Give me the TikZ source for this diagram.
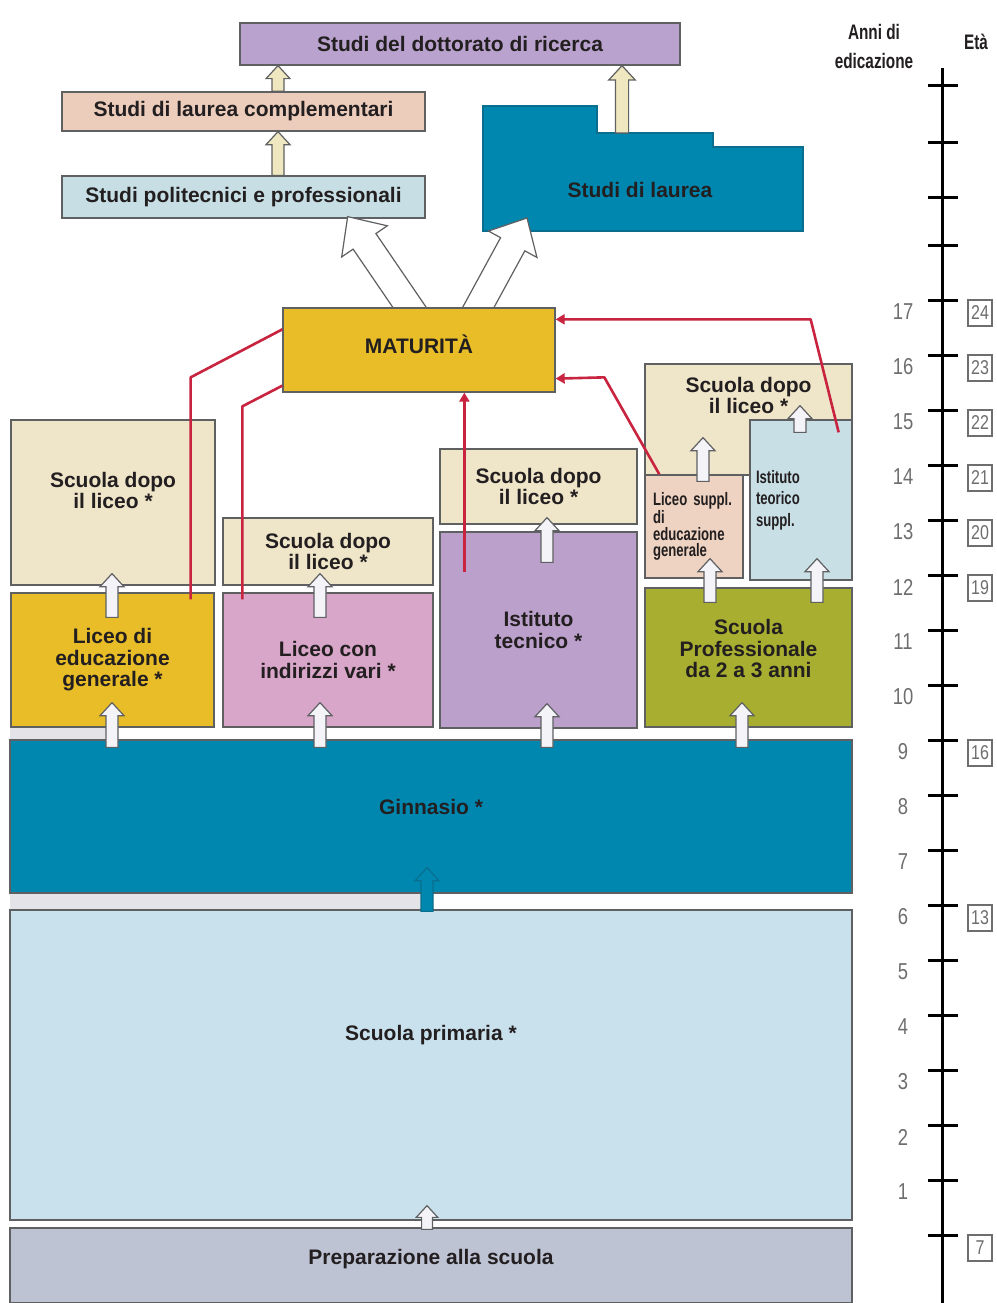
\documentclass[tikz,border=0pt]{standalone}
\usepackage{fontspec}
\setmainfont{Liberation Sans}
\newfontfamily\narrowfont[FakeStretch=0.8]{Liberation Sans}
\newfontfamily\narrowbold[FakeStretch=0.73]{Liberation Sans Bold}
\usetikzlibrary{arrows.meta,positioning,calc}
\definecolor{Ink}{HTML}{231F20}
\definecolor{Edge}{HTML}{5F6062}
\definecolor{Lilac}{HTML}{B9A3CE}
\definecolor{Peach}{HTML}{ECCDBC}
\definecolor{IceBlue}{HTML}{C6DEE4}
\definecolor{Teal}{HTML}{0087AF}
\definecolor{DeepTeal}{HTML}{0A6F8E}
\definecolor{Gold}{HTML}{E8BD28}
\definecolor{Sand}{HTML}{EFE5C9}
\definecolor{Rose}{HTML}{D8A6C9}
\definecolor{Mauve}{HTML}{BBA0CB}
\definecolor{Blush}{HTML}{EED3C2}
\definecolor{Mist}{HTML}{C8DFE6}
\definecolor{Olive}{HTML}{A8AF30}
\definecolor{SkyPale}{HTML}{C9E1EC}
\definecolor{Slate}{HTML}{BEC3D4}
\definecolor{Crimson}{HTML}{C8233F}
\definecolor{Cream}{HTML}{EEE7BF}
\definecolor{ArrowWhite}{HTML}{F3F3F8}
\definecolor{Shade}{HTML}{E4E4E8}
\definecolor{ScaleGray}{HTML}{6E6E6E}

\newcommand{\blockarrow}[4][ArrowWhite]{%
  \pgfmathsetlengthmacro{\shaftw}{6pt*#4}%
  \pgfmathsetlengthmacro{\headw}{12pt*#4}%
  \pgfmathsetlengthmacro{\headl}{13pt*#4}%
  \coordinate (bat) at #2;
  \coordinate (bap) at #3;
  \coordinate (bah) at ($(bap)!\headl!(bat)$);
  \filldraw[blockarr,fill=#1] ($(bat)!\shaftw!90:(bap)$) -- ($(bah)!\shaftw!90:(bap)$)
    -- ($(bah)!\headw!90:(bap)$) -- (bap) -- ($(bah)!\headw!-90:(bap)$)
    -- ($(bah)!\shaftw!-90:(bap)$) -- ($(bat)!\shaftw!-90:(bap)$) -- cycle;}

\begin{document}
\begin{tikzpicture}[x=1pt,y=-1pt,
    box/.style={rectangle,draw=Edge,line width=1.3pt,inner sep=0pt,align=center,text=Ink,
      font=\bfseries\fontsize{21}{21.5}\selectfont},
    smallbox/.style={box,align=left,font=\narrowbold\fontsize{18}{16.3}\selectfont},
    blockarr/.style={draw=Edge,line width=1.2pt,line join=miter},
    redline/.style={draw=Crimson,line width=2.6pt,line join=round},
    redtip/.style={redline,-{Triangle[width=10pt,length=9pt]}},
    axisline/.style={line width=3pt,black},
    tick/.style={line width=3pt,black},
    scalenum/.style={text=ScaleGray,font=\narrowfont\fontsize{23}{23}\selectfont},
    agebox/.style={draw=ScaleGray,line width=1.2pt,text=ScaleGray,inner sep=0pt,
      minimum width=24pt,minimum height=26pt,font=\narrowfont\fontsize{20}{20}\selectfont},
]
\path[use as bounding box,fill=white] (0,0) rectangle (996,1303);

\fill[Shade] (10,727) rectangle (111,740);
\fill[Shade] (10,893) rectangle (427,910);

\node[box,fill=Lilac,minimum width=440pt,minimum height=42pt] (dott) at (460,44) {Studi del dottorato di ricerca};
\node[box,fill=Peach,minimum width=363pt,minimum height=39pt] (compl) at (243.5,111.5) {Studi di laurea complementari};
\node[box,fill=IceBlue,minimum width=363pt,minimum height=42pt] (poli) at (243.5,197) {Studi politecnici e professionali};

\filldraw[fill=Teal,draw=DeepTeal,line width=1.3pt] (483,106) -- (597,106) -- (597,133) coordinate (lstep)
  -- (713,133) -- (713,147) -- (803,147) -- (803,231) -- (483,231) coordinate (lcorner) -- cycle;
\node[text=Ink,font=\bfseries\fontsize{21}{21.5}\selectfont] (laurea) at (640,190) {Studi di laurea};

\blockarrow[Cream]{(compl.north -| 278,0)}{(dott.south -| 278,0)}{1}
\blockarrow[Cream]{(poli.north -| 278,0)}{(compl.south -| 278,0)}{1}
\blockarrow[Cream]{($(lstep)+(25,0)$)}{(dott.south -| 622,0)}{1.1}

\coordinate (matc) at (419,350);
\blockarrow[white]{($(matc)+(6,-20)$)}{($(poli.south east)+(-78,-2)$)}{2.3}
\blockarrow[white]{($(matc)+(47,-20)$)}{($(lcorner)+(44,-13)$)}{2.3}
\node[box,fill=Gold,minimum width=272pt,minimum height=84pt,text depth=12pt] (mat) at (matc) {MATURITÀ};

\node[box,fill=Sand,minimum width=204pt,minimum height=165pt,text depth=24pt] (sdl1) at (113,502.5) {Scuola dopo\\il liceo *};
\node[box,fill=Gold,minimum width=203pt,minimum height=134pt] (libgen) at (112.5,660) {Liceo di\\educazione\\generale *};
\node[box,fill=Sand,minimum width=210pt,minimum height=67pt] (sdl2) at (328,551.5) {Scuola dopo\\il liceo *};
\node[box,fill=Rose,minimum width=210pt,minimum height=134pt] (lcon) at (328,660) {Liceo con\\indirizzi vari *};
\node[box,fill=Sand,minimum width=197pt,minimum height=75pt] (sdl3) at (538.5,486.5) {Scuola dopo\\il liceo *};
\node[box,fill=Mauve,minimum width=197pt,minimum height=196pt] (itec) at (538.5,630) {Istituto\\tecnico *};
\node[box,fill=Sand,minimum width=207pt,minimum height=111pt,text depth=48pt] (sdl4) at (748.5,419.5) {Scuola dopo\\il liceo *};
\node[smallbox,fill=Blush,minimum width=98pt,minimum height=103pt,text width=82pt] (lsup) at (694,526.5) {Liceo suppl.\\di\\educazione\\generale};
\node[smallbox,fill=Mist,minimum width=102pt,minimum height=160pt,text width=90pt,
  font=\narrowbold\fontsize{18}{21.5}\selectfont] (iteo) at (801,500) {Istituto\\teorico\\suppl.};
\node[box,fill=Olive,minimum width=207pt,minimum height=139pt,text depth=18pt] (sprof) at (748.5,657.5) {Scuola\\Professionale\\da 2 a 3 anni};
\node[box,fill=Teal,minimum width=842pt,minimum height=153pt,text depth=20pt] (ginn) at (431,816.5) {Ginnasio *};
\node[box,fill=SkyPale,minimum width=842pt,minimum height=310pt,text depth=64pt] (prim) at (431,1065) {Scuola primaria *};
\node[box,fill=Slate,minimum width=842pt,minimum height=75pt,text depth=17pt] (prep) at (431,1265.5) {Preparazione alla scuola};

\draw[redline] ($(libgen.north east)+(-24,7)$) -- ++(0,-222) -- ($(mat.north west)+(0,22)$);
\draw[redline] ($(lcon.north west)+(20,7)$) -- ++(0,-193) -- ($(mat.south west)+(0,-7)$);
\draw[redtip] ($(itec.north west)+(25,41)$) coordinate (tecred) -- (tecred |- mat.south);
\draw[redtip] ($(lsup.north west)+(15,0)$) -- ++(-55,-97) -- ($(mat.south east)+(0,-14)$);
\draw[redtip] ($(iteo.north east)+(-14,13)$) -- ++(-28,-113) -- ($(mat.north east)+(0,12)$);

\foreach \bx/\dst in {112/libgen,320/lcon,547/itec,742/sprof}
  \blockarrow{($(ginn.north -| \bx,0)+(0,8)$)}{($(\dst.south -| \bx,0)+(0,-25)$)}{1};
\blockarrow{($(libgen.north -| 112,0)+(0,25)$)}{($(sdl1.south -| 112,0)+(0,-12)$)}{1}
\blockarrow{($(lcon.north -| 320,0)+(0,25)$)}{($(sdl2.south -| 320,0)+(0,-12)$)}{1}
\blockarrow{($(itec.north -| 547,0)+(0,31)$)}{($(sdl3.south -| 547,0)+(0,-7)$)}{1}
\blockarrow{($(sprof.north -| 710,0)+(0,15)$)}{($(lsup.south -| 710,0)+(0,-20)$)}{1}
\blockarrow{($(sprof.north -| 817,0)+(0,15)$)}{($(iteo.south -| 817,0)+(0,-22)$)}{1}
\blockarrow{($(lsup.north -| 703,0)+(0,7)$)}{($(sdl4.south -| 703,0)+(0,-38)$)}{1}
\blockarrow{($(iteo.north -| 800,0)+(0,13)$)}{($(sdl4.south -| 800,0)+(0,-70)$)}{1}
\blockarrow[Teal,draw=DeepTeal]{($(prim.north -| 427,0)+(0,2)$)}{($(ginn.south -| 427,0)+(0,-26)$)}{1}
\blockarrow{($(prep.north -| 427,0)+(0,2)$)}{($(prim.south -| 427,0)+(0,-15)$)}{0.9}

\node[text=Ink,align=center,font=\narrowbold\fontsize{21}{29}\selectfont] (anni) at (874,46) {Anni di\\edicazione};
\node[text=Ink,font=\narrowbold\fontsize{21}{21}\selectfont] (eta) at (976,42) {Età};
\draw[axisline] (942,68) -- (942,1303);
\foreach \ty in {86,142,197,245}
  \draw[tick] (928,\ty) -- (958,\ty);
\foreach \n in {0,...,17}
  \draw[tick] (928,1235-55*\n) -- (958,1235-55*\n);
\foreach \n in {1,...,17}
  \node[scalenum] (num\n) at (903,1247-55*\n) {\n};
\foreach \n/\age in {17/24,16/23,15/22,14/21,13/20,12/19,9/16,6/13,0/7}
  \node[agebox] (age\n) at (980,1248-55*\n) {\age};
\end{tikzpicture}
\end{document}
